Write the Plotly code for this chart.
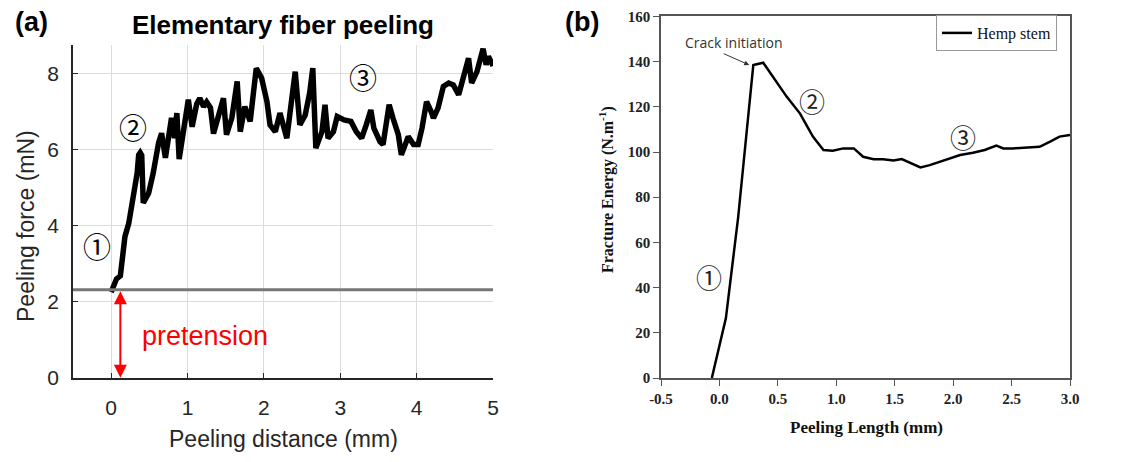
import plotly.graph_objects as go

# ---------------- data: panel (a) ----------------
a_dist = [0.0, 0.03, 0.07, 0.12, 0.14, 0.18, 0.23, 0.29, 0.34, 0.36, 0.38, 0.40, 0.42, 0.49, 0.55,
          0.62, 0.66, 0.71, 0.77, 0.79, 0.83, 0.86, 0.89, 0.97, 1.01, 1.06, 1.12, 1.16, 1.21, 1.25,
          1.30, 1.34, 1.40, 1.47, 1.51, 1.58, 1.65, 1.69, 1.75, 1.82, 1.90, 1.97, 2.04, 2.08, 2.15,
          2.21, 2.30, 2.41, 2.47, 2.54, 2.60, 2.64, 2.68, 2.76, 2.80, 2.84, 2.91, 2.96, 3.05, 3.14,
          3.21, 3.28, 3.34, 3.40, 3.44, 3.52, 3.56, 3.64, 3.69, 3.76, 3.80, 3.86, 3.89, 3.96, 4.02,
          4.07, 4.13, 4.19, 4.22, 4.28, 4.35, 4.42, 4.48, 4.55, 4.61, 4.68, 4.72, 4.79, 4.87, 4.91,
          4.94, 4.98, 5.0]
a_force = [2.25, 2.45, 2.6, 2.68, 3.0, 3.71, 4.06, 4.68, 5.38, 5.86, 5.92, 5.85, 4.6, 4.85, 5.38,
           6.17, 6.43, 5.78, 6.78, 6.83, 6.3, 6.96, 5.75, 6.87, 7.31, 6.6, 7.2, 7.35, 7.13, 7.25,
           7.1, 6.42, 6.9, 7.35, 6.39, 6.83, 7.79, 6.47, 7.13, 6.74, 8.14, 7.88, 7.26, 6.65, 6.47,
           6.96, 6.3, 8.05, 6.65, 6.9, 7.5, 8.14, 6.04, 6.47, 7.18, 6.3, 6.47, 6.87, 6.78, 6.74,
           6.47, 6.3, 6.65, 7.04, 6.56, 6.21, 6.13, 7.18, 6.83, 6.39, 5.86, 6.21, 6.34, 6.13, 6.13,
           6.56, 7.26, 7.0, 6.83, 7.09, 7.66, 7.75, 7.7, 7.44, 7.88, 8.4, 7.75, 8.05, 8.65, 8.23,
           8.45, 8.3, 8.2]
pretension = 2.31
a_xticks = [0, 1, 2, 3, 4, 5]
a_yticks = [0, 2, 4, 6, 8]

# ---------------- data: panel (b) ----------------
b_len = [-0.065, 0.055, 0.16, 0.29, 0.375, 0.46, 0.575, 0.69, 0.80, 0.89, 0.97, 1.06, 1.15, 1.23,
         1.32, 1.40, 1.49, 1.56, 1.64, 1.72, 1.80, 1.89, 1.97, 2.06, 2.17, 2.27, 2.37, 2.43, 2.51,
         2.63, 2.74, 2.83, 2.91, 3.0]
b_energy = [0, 26.4, 71, 138.5, 139.5, 133, 124.5, 117, 106.8, 100.9, 100.6, 101.6, 101.6, 97.9,
            96.8, 96.8, 96.2, 96.9, 95.0, 93.2, 94.2, 95.7, 96.9, 98.7, 99.7, 100.9, 102.8, 101.6,
            101.6, 102.0, 102.3, 104.6, 106.8, 107.5]
b_xticks = [-0.5, 0.0, 0.5, 1.0, 1.5, 2.0, 2.5, 3.0]
b_xticklabels = ["-0.5", "0.0", "0.5", "1.0", "1.5", "2.0", "2.5", "3.0"]
b_yticks = [0, 20, 40, 60, 80, 100, 120, 140, 160]

# the page body has an 8px margin; size the figure so it fits the 1134x462 window
OFF = 8
W, H = 1134 - 2 * OFF, 462 - 2 * OFF
def px(x):
    return (x - OFF) / W
def py(y):
    return 1 - (y - OFF) / H

SANS = "Liberation Sans, Arial, sans-serif"
SERIF = "Liberation Serif, Times New Roman, serif"
CIRC = "Noto Sans CJK JP, DejaVu Sans, sans-serif"
DARK = "#262626"

fig = go.Figure()

fig.add_trace(go.Scatter(x=a_dist, y=a_force, mode="lines",
                         line=dict(color="black", width=5.5), showlegend=False,
                         xaxis="x", yaxis="y"))
fig.add_trace(go.Scatter(x=b_len, y=b_energy, mode="lines", name="Hemp stem",
                         line=dict(color="black", width=2.5), showlegend=True,
                         xaxis="x2", yaxis="y2"))

fig.update_layout(
    width=W, height=H, margin=dict(l=0, r=0, t=0, b=0, autoexpand=False),
    paper_bgcolor="white", plot_bgcolor="white",
    xaxis=dict(domain=[px(73), px(493)], range=[-0.5, 5], tickvals=a_xticks,
               showgrid=True, gridcolor="#dcdcdc", gridwidth=1, zeroline=False,
               showline=True, linecolor=DARK, linewidth=1.5, ticks="inside", ticklen=5,
               tickcolor=DARK, tickfont=dict(family=SANS, size=21, color=DARK),
               ticklabelstandoff=10, anchor="y", automargin=False),
    yaxis=dict(domain=[py(377.7), py(45)], range=[0, 8.75], tickvals=a_yticks,
               showgrid=True, gridcolor="#dcdcdc", gridwidth=1, zeroline=False,
               showline=True, linecolor=DARK, linewidth=1.5, ticks="inside", ticklen=5,
               tickcolor=DARK, tickfont=dict(family=SANS, size=21, color=DARK),
               ticklabelstandoff=8, anchor="x", automargin=False),
    xaxis2=dict(domain=[px(661), px(1070)], range=[-0.5, 3.0], tickvals=b_xticks,
                ticktext=b_xticklabels, showgrid=False, zeroline=False,
                showline=True, mirror=True, linecolor="#555", linewidth=1.5,
                ticks="outside", ticklen=6, tickcolor="#555",
                tickfont=dict(family=SERIF, size=15, color="#222", weight="bold"),
                anchor="y2", automargin=False),
    yaxis2=dict(domain=[py(378), py(16.4)], range=[0, 160], tickvals=b_yticks,
                showgrid=False, zeroline=False,
                showline=True, mirror=True, linecolor="#555", linewidth=1.5,
                ticks="outside", ticklen=6, tickcolor="#555",
                tickfont=dict(family=SERIF, size=15, color="#222", weight="bold"),
                anchor="x2", automargin=False),
    legend=dict(x=px(1057), xanchor="right", y=py(33), yanchor="middle",
                bordercolor="#999", borderwidth=1, bgcolor="white",
                font=dict(family=SERIF, size=16, color="#111"),
                itemwidth=30, tracegroupgap=0),
)

# pretension baseline
fig.add_shape(type="line", xref="x", yref="y", x0=-0.5, x1=5, y0=pretension, y1=pretension,
              line=dict(color="#777777", width=3))

ann = []
# panel labels and titles
ann.append(dict(text="<b>(a)</b>", x=px(13), y=py(22), xref="paper", yref="paper",
                xanchor="left", yanchor="middle", showarrow=False,
                font=dict(family=SANS, size=27, color="black")))
ann.append(dict(text="<b>(b)</b>", x=px(563), y=py(22), xref="paper", yref="paper",
                xanchor="left", yanchor="middle", showarrow=False,
                font=dict(family=SANS, size=27, color="black")))
ann.append(dict(text="<b>Elementary fiber peeling</b>", x=px(283), y=py(25), xref="paper",
                yref="paper", xanchor="center", yanchor="middle", showarrow=False,
                font=dict(family=SANS, size=26, color="black")))
ann.append(dict(text="Peeling distance (mm)", x=px(283), y=0, xref="paper", yref="paper",
                xanchor="center", yanchor="bottom", showarrow=False,
                font=dict(family=SANS, size=23, color=DARK)))
ann.append(dict(text="Peeling force (mN)", x=px(26), y=py(226), xref="paper", yref="paper",
                xanchor="center", yanchor="middle", showarrow=False, textangle=-90,
                font=dict(family=SANS, size=23, color=DARK)))
ann.append(dict(text="<b>Peeling Length (mm)</b>", x=px(866), y=py(427), xref="paper",
                yref="paper", xanchor="center", yanchor="middle", showarrow=False,
                font=dict(family=SERIF, size=17, color="#111")))
ann.append(dict(text="<b>Fracture Energy (N.m<sup>-1</sup>)</b>", x=px(606), y=py(190),
                xref="paper", yref="paper", xanchor="center", yanchor="middle",
                showarrow=False, textangle=-90,
                font=dict(family=SERIF, size=16, color="#111")))

# circled stage labels, panel (a)
for t, xv, yv in [("①", -0.18, 3.47), ("②", 0.29, 6.6), ("③", 3.3, 7.9)]:
    ann.append(dict(text=t, x=xv, y=yv, xref="x", yref="y", showarrow=False,
                    font=dict(family=CIRC, size=28, color="black")))
# circled stage labels, panel (b)
for t, xv, yv in [("①", -0.09, 45), ("②", 0.79, 123), ("③", 2.086, 106.8)]:
    ann.append(dict(text=t, x=xv, y=yv, xref="x2", yref="y2", showarrow=False,
                    font=dict(family=CIRC, size=26, color="#222")))

# pretension double arrow
ann.append(dict(x=0.12, y=0.0, ax=0.12, ay=pretension, xref="x", yref="y", axref="x", ayref="y",
                showarrow=True, arrowhead=2, startarrowhead=2, arrowside="end+start",
                arrowsize=1.3, startarrowsize=1.3, arrowwidth=2, arrowcolor="#ff0000", text=""))
ann.append(dict(text="pretension", x=0.38, y=1.1, xref="x", yref="y", xanchor="left",
                yanchor="middle", showarrow=False,
                font=dict(family=SANS, size=27, color="#ff0000")))

# crack initiation
ann.append(dict(text="Crack initiation", x=px(734), y=py(42), xref="paper", yref="paper",
                xanchor="center", yanchor="middle", showarrow=False,
                font=dict(family="Open Sans, sans-serif", size=14, color="#333")))
ann.append(dict(x=0.255, y=138.5, xref="x2", yref="y2", ax=-27, ay=-12, text="",
                showarrow=True, arrowhead=2, arrowsize=1, arrowwidth=1, arrowcolor="#333"))

fig.update_layout(annotations=ann)
fig.write_html("out.html")
